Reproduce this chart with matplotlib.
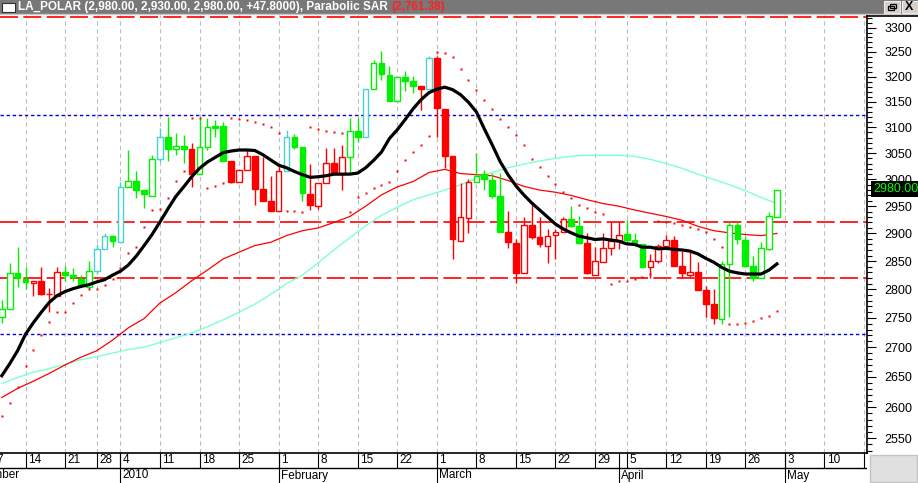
import numpy as np
import pandas as pd
import matplotlib
matplotlib.use('Agg')
import matplotlib.pyplot as plt
from matplotlib.patches import Rectangle
from matplotlib.ticker import FixedLocator, FixedFormatter, NullFormatter

plt.rcParams['font.family'] = ['Liberation Sans', 'DejaVu Sans']

# daily candles, 9 Dec 2009 .. 30 Apr 2010
opens = [2751, 2765, 2829, 2818, 2811, 2814, 2791, 2789, 2831, 2825,
         2818, 2804, 2833, 2871, 2895, 2885, 2985, 2997, 2980, 2969,
         3038, 3081, 3058, 3064, 3058, 3010, 3062, 3102, 3102, 3035,
         2996, 3017, 3045, 2982, 2960, 2941, 3015, 3082, 3062, 2973,
         2951, 2993, 3031, 3010, 3042, 3092, 3081, 3175, 3227, 3204,
         3151, 3199, 3191, 3181, 3175, 3238, 3136, 3045, 2887, 2929,
         2995, 3010, 2999, 2969, 2903, 2882, 2828, 2915, 2893, 2878,
         2897, 2902, 2926, 2914, 2882, 2826, 2849, 2873, 2887, 2899,
         2888, 2880, 2839, 2850, 2878, 2888, 2841, 2826, 2831, 2799,
         2774, 2749, 2844, 2915, 2888, 2841, 2820, 2872, 2930]
highs = [2781, 2846, 2876, 2840, 2814, 2840, 2802, 2840, 2842, 2837,
         2825, 2850, 2881, 2900, 2897, 2996, 3056, 3015, 2980, 3046,
         3098, 3120, 3088, 3085, 3069, 3119, 3119, 3114, 3111, 3035,
         3018, 3056, 3045, 3043, 3006, 3026, 3095, 3086, 3062, 3029,
         2993, 3059, 3059, 3066, 3119, 3119, 3175, 3233, 3253, 3222,
         3199, 3211, 3201, 3181, 3242, 3242, 3136, 3045, 2993, 3000,
         3050, 3018, 3013, 3012, 2941, 2890, 2930, 2952, 2930, 2908,
         2908, 2930, 2950, 2931, 2900, 2876, 2900, 2920, 2921, 2925,
         2901, 2880, 2863, 2880, 2897, 2895, 2868, 2869, 2849, 2805,
         2800, 2851, 2920, 2921, 2895, 2859, 2885, 2939, 2980]
lows = [2741, 2765, 2804, 2800, 2789, 2790, 2761, 2789, 2814, 2814,
        2804, 2800, 2827, 2871, 2876, 2885, 2985, 2966, 2946, 2969,
        3033, 3034, 3046, 3031, 2985, 3010, 3056, 3082, 3034, 2994,
        2996, 3017, 2952, 2960, 2942, 2941, 3015, 3057, 2960, 2943,
        2945, 2993, 3010, 2980, 3010, 3072, 3081, 3175, 3193, 3152,
        3151, 3172, 3167, 3134, 3175, 3082, 3021, 2853, 2887, 2901,
        2995, 2980, 2966, 2903, 2873, 2811, 2828, 2889, 2876, 2846,
        2853, 2902, 2911, 2881, 2827, 2826, 2849, 2861, 2872, 2883,
        2878, 2840, 2820, 2846, 2878, 2842, 2820, 2821, 2799, 2752,
        2740, 2740, 2752, 2881, 2840, 2815, 2820, 2870, 2930]
closes = [2765, 2829, 2820, 2812, 2814, 2791, 2791, 2831, 2825, 2821,
          2808, 2833, 2871, 2895, 2887, 2985, 2997, 2980, 2972, 3038,
          3081, 3058, 3064, 3058, 3010, 3062, 3100, 3099, 3034, 2996,
          3018, 3044, 2982, 2960, 2942, 3016, 3082, 3062, 2974, 2952,
          2993, 3031, 3010, 3042, 3092, 3082, 3175, 3227, 3205, 3152,
          3199, 3192, 3182, 3176, 3238, 3137, 3045, 2889, 2930, 2995,
          3006, 3000, 2969, 2903, 2884, 2829, 2915, 2894, 2880, 2896,
          2902, 2926, 2914, 2883, 2828, 2850, 2874, 2886, 2898, 2888,
          2882, 2840, 2850, 2878, 2888, 2842, 2828, 2830, 2799, 2774,
          2750, 2844, 2915, 2889, 2842, 2820, 2873, 2932, 2980]
# candle colour: g = green, r = red, c = cyan
colors = list('ggggrrrrgg' 'ggccgcgggg' 'cgggrggggr' 'rrrrrrcggr'
              'rrrrggcggg' 'gggrcrrrrr' 'ggggrrrrrr' 'rrggrrrrrg'
              'ggrrrrrrrr' 'rgggggggg')

# indicators
ma_black = [2652, 2672, 2694, 2722, 2742, 2760, 2777, 2789, 2796, 2801,
            2805, 2808, 2813, 2817, 2825, 2832, 2843, 2859, 2878, 2898,
            2921, 2945, 2968, 2986, 3005, 3021, 3033, 3042, 3051, 3054,
            3056, 3056, 3055, 3047, 3037, 3027, 3022, 3015, 3009, 3004,
            3005, 3007, 3010, 3010, 3010, 3012, 3022, 3036, 3052, 3078,
            3095, 3115, 3136, 3154, 3168, 3175, 3179, 3174, 3164, 3149,
            3130, 3097, 3066, 3034, 3009, 2988, 2971, 2956, 2943, 2930,
            2917, 2908, 2901, 2895, 2892, 2889, 2890, 2888, 2886, 2881,
            2880, 2875, 2875, 2872, 2873, 2871, 2870, 2868, 2863, 2855,
            2848, 2839, 2832, 2829, 2827, 2827, 2827, 2834, 2845]
ma_idx = list(range(0, 99, 2))
ma_red = [2616, 2631, 2643, 2656, 2670, 2683, 2694, 2712, 2733, 2749,
          2776, 2794, 2815, 2834, 2854, 2866, 2878, 2884, 2896, 2905,
          2910, 2920, 2931, 2950, 2971, 2986, 2996, 3013, 3019, 3011,
          3009, 3007, 2998, 2987, 2980, 2976, 2970, 2962, 2955, 2950,
          2943, 2937, 2931, 2924, 2913, 2905, 2901, 2898, 2896, 2900]
ma_cyan = [2639, 2649, 2658, 2664, 2671, 2679, 2684, 2690, 2696, 2700,
           2708, 2716, 2724, 2735, 2747, 2760, 2774, 2791, 2810, 2825,
           2847, 2870, 2892, 2914, 2933, 2948, 2962, 2971, 2980, 2990,
           3002, 3013, 3022, 3029, 3035, 3040, 3044, 3046, 3046, 3046,
           3044, 3038, 3030, 3021, 3010, 3000, 2990, 2979, 2966, 2955]
sar = [2586, 2607, 2634, 2668, 2696, 2721, 2743, 2760, 2760, 2776,
       2790, 2800, 2800, 2808, 2818, 2838, 2864, 2876, 2911, 2943,
       2945, 2965, 2997, 3015, 3119, 3119, 2983, 2988, 2993, 3119,
       3117, 3115, 3111, 3106, 3100, 3088, 2941, 2941, 2940, 3100,
       3096, 3093, 3091, 3088, 2940, 2967, 2975, 2983, 2990, 2996,
       3015, 3036, 3053, 3066, 3083, 3251, 3247, 3239, 3215, 3193,
       3173, 3154, 3135, 3117, 3101, 3085, 3066, 3038, 3024, 3007,
       2992, 2977, 2965, 2952, 2946, 2940, 2935, 2809, 2814, 2815,
       2818, 2822, 2827, 2922, 2920, 2919, 2915, 2911, 2908, 2903,
       2889, 2875, 2740, 2740, 2742, 2745, 2750, 2754, 2761.38]

red_levels = [2920, 2820, 3323]
blue_levels = [3123, 2722]
price_ticks = list(range(2550, 3301, 50))

holidays = pd.to_datetime(['2009-12-08', '2009-12-25', '2009-12-31',
                           '2010-01-01', '2010-04-02'])
cal = pd.bdate_range('2009-12-01', '2010-05-21')
cal = cal[~cal.isin(holidays)]
pos = np.arange(len(cal)) - cal.get_loc(pd.Timestamp('2009-12-09'))
wk = cal.isocalendar().week.values
week_start = np.r_[True, wk[1:] != wk[:-1]]
month_start = np.r_[True, cal.month[1:] != cal.month[:-1]]

col_map = {'g': '#00f000', 'r': '#ff0000', 'c': '#46d2d2'}

W, H = 918, 483
fig = plt.figure(figsize=(W / 100, H / 100), dpi=100)


def px_axes(x0, y0, x1, y1):
    return fig.add_axes([x0 / W, 1 - y1 / H, (x1 - x0) / W, (y1 - y0) / H])


ax = px_axes(0, 15, 867, 452.5)
ax.set_yscale('log')
ax.set_ylim(2527.2, 3326.4)
xlim = (-0.224, 109.385)
ax.set_xlim(*xlim)

# week grid
for x in pos[week_start]:
    ax.axvline(x, color='#bdbdbd', lw=0.8, ls=(0, (4, 3)), zorder=1)

for lv in red_levels:
    ax.axhline(lv, color='#ff0000', lw=1.2, dashes=(10.8, 3.2), zorder=2)
for lv in blue_levels:
    ax.axhline(lv, color='#0000d0', lw=1.0, dashes=(2.4, 2.0), zorder=2)

ax.plot(ma_idx, ma_cyan, color='#7fffd4', lw=1.0, zorder=2)
ax.plot(ma_idx, ma_red, color='#ff0000', lw=0.9, zorder=2)

n = len(opens)
for i in range(n):
    c = col_map[colors[i]]
    o, cl = opens[i], closes[i]
    ax.vlines(i, lows[i], highs[i], color=c, lw=1.0, zorder=3)
    lo, hi = min(o, cl), max(o, cl)
    if hi - lo < 1:
        ax.hlines(o, i - 0.36, i + 0.36, color=c, lw=1.0, zorder=4)
    else:
        face = c if cl < o else 'white'
        ax.add_patch(Rectangle((i - 0.36, lo), 0.72, hi - lo, facecolor=face,
                               edgecolor=c, lw=1.0, zorder=4))

ax.plot(range(n), ma_black, color='black', lw=2.3, zorder=6,
        solid_joinstyle='round')
ax.plot(range(n), sar, ls='none', marker='s', ms=1.6, color='#ff0000',
        mec='none', zorder=6)

ax.yaxis.set_major_locator(FixedLocator(price_ticks))
ax.yaxis.set_major_formatter(FixedFormatter([str(v) for v in price_ticks]))
ax.yaxis.set_minor_locator(FixedLocator(range(2530, 3321, 10)))
ax.yaxis.set_minor_formatter(NullFormatter())
ax.yaxis.tick_right()
ax.tick_params(axis='y', which='major', length=6.5, width=0.8, pad=6,
               labelsize=9, direction='out')
ax.tick_params(axis='y', which='minor', length=3.5, width=0.8, direction='out')
ax.set_xticks([])
ax.spines['top'].set_visible(False)
ax.spines['left'].set_visible(False)
ax.spines['right'].set_linewidth(1.2)
ax.spines['bottom'].set_linewidth(1.2)

# date band
axd = px_axes(0, 452.5, 867, 483)
axd.set_xlim(*xlim)
axd.set_ylim(0, 1)
axd.axis('off')
split = 15 / 30.5
axd.axhline(split, color='black', lw=1.0)
for x, d in zip(pos[week_start], cal[week_start]):
    axd.vlines(x, split, 1, color='black', lw=0.8)
    axd.text(x + 0.3, (split + 1) / 2, str(d.day), fontsize=8.5,
             va='center', ha='left', clip_on=True)
for x, d in zip(pos[month_start], cal[month_start]):
    axd.vlines(x, 0, 1, color='black', lw=0.8)
    name = str(d.year) if d.month == 1 else d.strftime('%B')
    axd.text(x + 0.3, split / 2, name, fontsize=8.5, va='center',
             ha='left', clip_on=True)

# window chrome
ui = fig.add_axes([0, 0, 1, 1], zorder=10)
ui.set_xlim(0, W)
ui.set_ylim(H, 0)
ui.axis('off')
ui.add_patch(Rectangle((0, 0), W, 13.5, facecolor='#787878', edgecolor='none'))
ui.plot([0, W], [14, 14], color='#c8c8c8', lw=1)
ui.plot([867, W], [15.5, 15.5], color='black', lw=1.2)
ui.add_patch(Rectangle((1.5, 3), 13, 8.5, facecolor='white', edgecolor='#303030', lw=0.8))
ui.add_patch(Rectangle((884, 0.5), 16, 12, facecolor='#d4d0c8', edgecolor='#f0f0f0', lw=0.8))
ui.add_patch(Rectangle((888, 6), 6, 4, facecolor='none', edgecolor='black', lw=0.9))
ui.add_patch(Rectangle((890, 3.5), 6, 4, facecolor='none', edgecolor='black', lw=0.9))
ui.add_patch(Rectangle((901.5, 0.5), 16, 12, facecolor='#d4d0c8', edgecolor='#f0f0f0', lw=0.8))
ui.text(909.5, 7, 'X', fontsize=9, fontweight='bold', ha='center', va='center')
ui.add_patch(Rectangle((870, 455), 47, 27, facecolor='#e0e0e0', edgecolor='#c4c4c4', lw=1))

t1 = ui.text(18, 7, 'LA_POLAR (2,980.00, 2,930.00, 2,980.00, +47.8000), Parabolic SAR ',
             color='white', fontsize=8.5, fontweight='bold', va='center', ha='left')
fig.canvas.draw()
bb = t1.get_window_extent()
ui.text(bb.x1, 7, '(2,761.38)', color='#ff2020', fontsize=8.5, fontweight='bold',
        va='center', ha='left')

# last price flag
ui.add_patch(Rectangle((871, 181), 47, 15.5, facecolor='black', edgecolor='none'))
ui.text(873, 189, '2980.000', color='#00ff00', fontsize=9, va='center', ha='left')

fig.savefig('out.png', dpi=100)
